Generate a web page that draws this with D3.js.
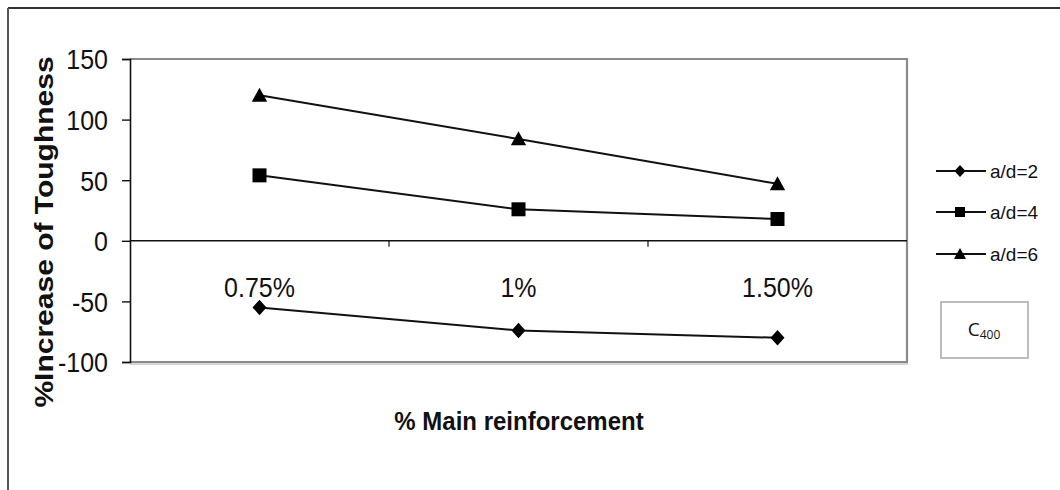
<!DOCTYPE html>
<html>
<head>
<meta charset="utf-8">
<script src="https://cdn.jsdelivr.net/npm/d3@7"></script>
<style>
  html, body { margin: 0; padding: 0; background: #fff; }
  svg { display: block; }
  text { font-family: "Liberation Sans", Arial, sans-serif; fill: #111; }
</style>
</head>
<body>
<svg id="chart" width="1060" height="490"></svg>
<script>
// Reinforcement ratios on the category axis
const categories = ["0.75%", "1%", "1.50%"];
// % increase of toughness for each shear-span ratio
const seriesNames = ["a/d=2", "a/d=4", "a/d=6"];
const valuesAd2 = [-55, -74, -80];
const valuesAd4 = [54, 26, 18];
const valuesAd6 = [120, 84, 47];
const yTicks = [-100, -50, 0, 50, 100, 150];
const markerShapes = ["diamond", "square", "triangle"];

const series = seriesNames.map((name, i) => ({
  name,
  shape: markerShapes[i],
  values: [valuesAd2, valuesAd4, valuesAd6][i]
}));

const svg = d3.select("#chart");

// Outer frame (top and left edges visible)
svg.append("line").attr("x1", 8).attr("y1", 8).attr("x2", 1060).attr("y2", 8)
  .attr("stroke", "#333").attr("stroke-width", 2);
svg.append("line").attr("x1", 8).attr("y1", 8).attr("x2", 8).attr("y2", 490)
  .attr("stroke", "#555").attr("stroke-width", 2);

const plot = { left: 130, right: 907, top: 59, bottom: 362 };

const x = d3.scalePoint().domain(categories).range([plot.left, plot.right]).padding(0.5);
const xBand = d3.scaleBand().domain(categories).range([plot.left, plot.right]);
const y = d3.scaleLinear().domain([-100, 150]).range([plot.bottom, plot.top]);

// Plot-area border: grey on top, right, bottom
svg.append("path")
  .attr("d", `M${plot.left},${plot.top}H${plot.right}V${plot.bottom}H${plot.left}`)
  .attr("fill", "none").attr("stroke", "#8a8a8a").attr("stroke-width", 2.2);
svg.append("line")
  .attr("x1", plot.left).attr("x2", plot.right + 1)
  .attr("y1", plot.bottom + 2).attr("y2", plot.bottom + 2)
  .attr("stroke", "#c8c8c8").attr("stroke-width", 1.5);

// Value axis
const yAxis = svg.append("g")
  .attr("transform", `translate(${plot.left},0)`)
  .call(d3.axisLeft(y).tickValues(yTicks).tickSize(8).tickPadding(14).tickFormat(d => String(d)));
yAxis.select(".domain").attr("stroke", "#111").attr("stroke-width", 1.6);
yAxis.selectAll(".tick line").attr("stroke", "#111").attr("stroke-width", 1.4);
yAxis.selectAll(".tick text")
  .style("font-size", "25px")
  .style("font-family", "'Liberation Sans', Arial, sans-serif")
  .attr("fill", "#111")
  .attr("dy", "0.36em")
  .attr("transform", "scale(1,1.1)");

// Category axis crossing at zero
const zeroY = y(0);
svg.append("line")
  .attr("x1", plot.left).attr("x2", plot.right)
  .attr("y1", zeroY).attr("y2", zeroY)
  .attr("stroke", "#111").attr("stroke-width", 1.6);
const bounds = categories.slice(1).map(c => xBand(c));
svg.selectAll(".xtick").data(bounds).join("line")
  .attr("x1", d => d).attr("x2", d => d)
  .attr("y1", zeroY).attr("y2", zeroY + 6)
  .attr("stroke", "#111").attr("stroke-width", 1.2);
svg.selectAll(".xlabel").data(categories).join("text")
  .attr("text-anchor", "middle")
  .attr("transform", d => `translate(${x(d)},${zeroY + 56}) scale(1,1.1)`)
  .style("font-size", "25px")
  .text(d => d);

// Marker symbols
function symbolPath(shape, s) {
  if (shape === "diamond") return `M0,${-s * 0.55}L${s * 0.5},0L0,${s * 0.55}L${-s * 0.5},0Z`;
  if (shape === "square") return `M${-s / 2},${-s / 2}h${s}v${s}h${-s}Z`;
  return `M0,${-s * 0.55}L${s * 0.55},${s * 0.45}L${-s * 0.55},${s * 0.45}Z`;
}

const line = d3.line().x((d, i) => x(categories[i])).y(d => y(d));

const g = svg.append("g");
series.forEach(s => {
  g.append("path").datum(s.values)
    .attr("d", line)
    .attr("fill", "none").attr("stroke", "#111").attr("stroke-width", 2);
  g.selectAll(null).data(s.values).join("path")
    .attr("transform", (d, i) => `translate(${x(categories[i])},${y(d)})`)
    .attr("d", symbolPath(s.shape, 14))
    .attr("fill", "#000");
});

// Axis titles
svg.append("text")
  .attr("transform", "translate(53,232) scale(1,1.2) rotate(-90)")
  .attr("text-anchor", "middle")
  .style("font-size", "25px").style("font-weight", "bold")
  .text("%Increase of Toughness");
svg.append("text")
  .attr("transform", "translate(519,430) scale(1,1.1)")
  .attr("text-anchor", "middle")
  .style("font-size", "24px").style("font-weight", "bold")
  .text("% Main reinforcement");

// Legend
const legendRows = [171, 212, 254];
const legend = svg.append("g");
series.forEach((s, i) => {
  const ly = legendRows[i];
  legend.append("line").attr("x1", 936).attr("x2", 986).attr("y1", ly).attr("y2", ly)
    .attr("stroke", "#111").attr("stroke-width", 2);
  legend.append("path").attr("transform", `translate(960,${ly})`)
    .attr("d", symbolPath(s.shape, s.shape === "square" ? 10 : 11)).attr("fill", "#000");
  legend.append("text").attr("x", 990).attr("y", ly + 7)
    .style("font-size", "19px").text(s.name);
});

// Concrete grade box
svg.append("rect").attr("x", 941).attr("y", 302).attr("width", 87).attr("height", 56)
  .attr("fill", "#fff").attr("stroke", "#bdbdbd").attr("stroke-width", 2);
const lbl = svg.append("text").attr("x", 984).attr("y", 336).attr("text-anchor", "middle")
  .style("font-size", "19px").style("font-family", "'Liberation Sans Narrow', 'Open Sans', sans-serif");
lbl.append("tspan").text("C");
lbl.append("tspan").attr("dy", 3).style("font-size", "12px").text("400");
</script>
</body>
</html>
